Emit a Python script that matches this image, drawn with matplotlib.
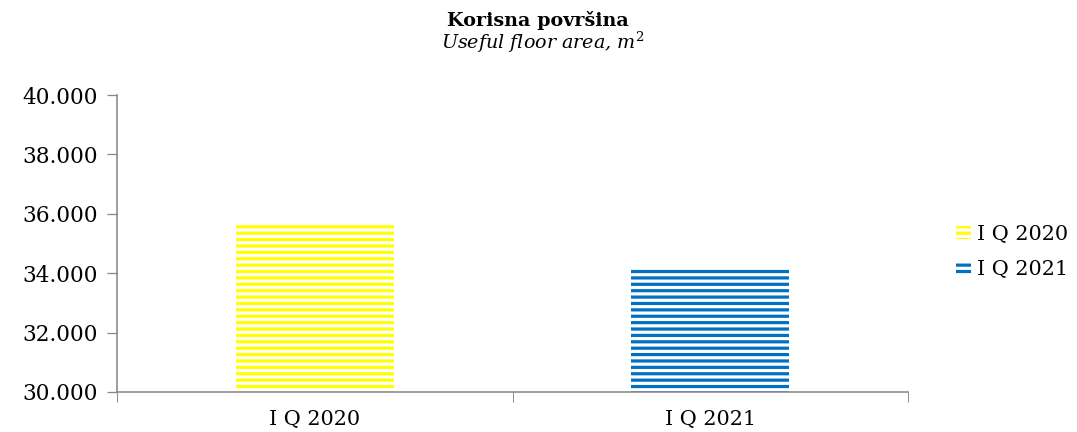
import matplotlib
matplotlib.use("Agg")
import matplotlib.pyplot as plt
from matplotlib.ticker import FuncFormatter, FixedLocator

categories = ["I Q 2020", "I Q 2021"]
values = [35700, 34200]
colors = ["#FFFF00", "#0070C0"]
yticks = [30000, 32000, 34000, 36000, 38000, 40000]

DPI = 115
plt.rcParams['font.family'] = ['DejaVu Serif']
plt.rcParams['mathtext.fontset'] = 'dejavuserif'
plt.rcParams['hatch.linewidth'] = 2.0

fig = plt.figure(figsize=(1077 / DPI, 432 / DPI), dpi=DPI)
ax = fig.add_axes([117 / 1077, 40 / 432, (908 - 117) / 1077, (392 - 95) / 432])

x = list(range(len(categories)))
bars = []
for i, (v, c) in enumerate(zip(values, colors)):
    b = ax.bar(i, v - 30000, bottom=30000, width=0.40, facecolor="white",
               edgecolor=c, linewidth=0, hatch="---", label=categories[i])
    bars.append(b)

ax.set_ylim(30000, 40000)
ax.set_xlim(-0.5, 1.5)
ax.set_yticks(yticks)
ax.yaxis.set_major_formatter(FuncFormatter(lambda v, p: f"{int(v):,}".replace(",", ".")))
ax.set_xticks(x)
ax.set_xticklabels(categories)
ax.xaxis.set_minor_locator(FixedLocator([-0.5, 0.5, 1.5]))
ax.tick_params(axis="x", which="major", length=0, labelsize=13, pad=11)
ax.tick_params(axis="x", which="minor", length=6, color="#888888", direction="out")
ax.tick_params(axis="y", length=6, color="#888888", direction="out", labelsize=13.5, pad=6)
for s in ["top", "right"]:
    ax.spines[s].set_visible(False)
for s in ["left", "bottom"]:
    ax.spines[s].set_color("#888888")
    ax.spines[s].set_linewidth(1.0)

fig.text(538 / 1077, 1 - 20 / 432, "Korisna površina", ha="center", va="center",
         fontsize=12, fontweight="bold")
fig.text(543 / 1077, 1 - 42 / 432, r"Useful floor area, m$^{2}$", ha="center", va="center",
         fontsize=12, style="italic")

leg = fig.legend(handles=[b[0] for b in bars], labels=categories,
                 loc="center left", bbox_to_anchor=(952 / 1077, 1 - 252 / 432),
                 frameon=False, fontsize=13, handlelength=0.7, handleheight=0.6,
                 handletextpad=0.3, labelspacing=0.8, borderpad=0.2, borderaxespad=0.0)

fig.savefig("out.png", dpi=DPI)
